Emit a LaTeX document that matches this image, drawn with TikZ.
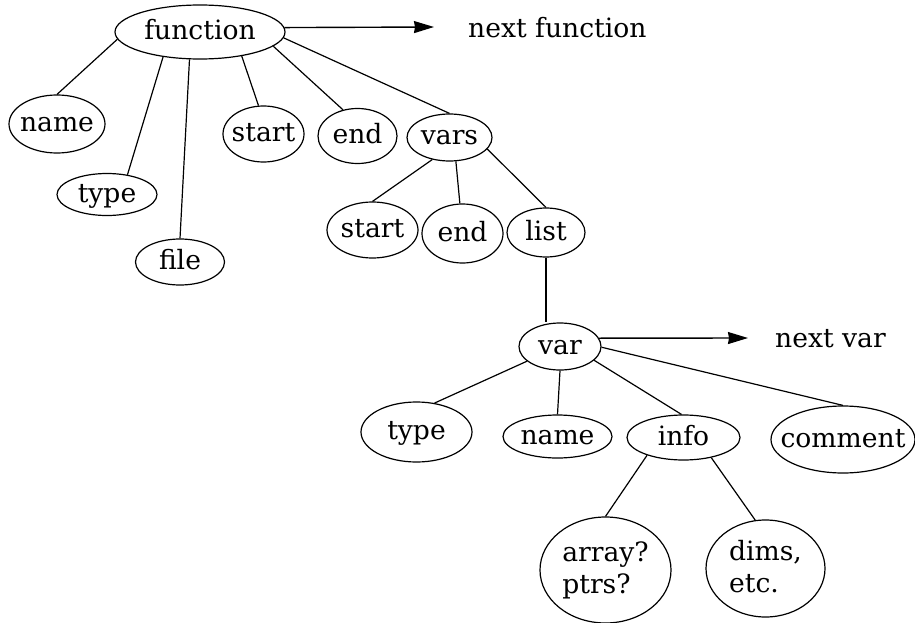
\documentclass[tikz,border=0pt]{standalone}
\usepackage{fontspec}
\setmainfont{DejaVu Serif}
\usetikzlibrary{shapes.geometric,arrows.meta}
\newcommand{\tx}[1]{\makebox[0pt]{\smash{#1}}}
\tikzset{
  ell/.style={draw, ellipse, line width=1.2pt, inner sep=0pt, text height=20pt, text depth=5pt},
  lnk/.style={line width=1.2pt},
  arr/.style={line width=1.4pt, -{Stealth[length=20pt,width=12pt,inset=1pt]}},
  lbl/.style={anchor=base west, inner sep=0pt}
}
\begin{document}
\begin{tikzpicture}[x=1pt,y=-1pt,font=\fontsize{26.6pt}{32pt}\selectfont]
\fill[white] (0,0) rectangle (915,623);
\useasboundingbox (0,0) rectangle (915,623);
% top level
\node[ell, minimum width=170pt, minimum height=54pt] (function) at (200,32) {\tx{function}};
\node[ell, minimum width=96pt, minimum height=58pt] (name) at (57,124) {\tx{name}};
\node[ell, minimum width=100pt, minimum height=42pt] (type) at (107,194.5) {\tx{type}};
\node[ell, minimum width=89pt, minimum height=46pt] (file) at (180,262) {\tx{file}};
\node[ell, minimum width=81pt, minimum height=56pt] (start) at (263.5,134) {\tx{start}};
\node[ell, minimum width=79pt, minimum height=55pt] (end) at (357.5,136) {\tx{end}};
\node[ell, minimum width=85pt, minimum height=47pt] (vars) at (449.5,137.5) {\tx{vars}};
\node[ell, minimum width=91pt, minimum height=56pt] (start2) at (372.5,230) {\tx{start}};
\node[ell, minimum width=81pt, minimum height=59pt] (end2) at (462.5,233.5) {\tx{end}};
\node[ell, minimum width=78pt, minimum height=49pt] (list) at (546,232.5) {\tx{list}};
% var level
\node[ell, minimum width=82pt, minimum height=47pt] (var) at (560,346.5) {\tx{var}};
\node[ell, minimum width=111pt, minimum height=60pt] (type2) at (416.5,432) {\tx{type}};
\node[ell, minimum width=109pt, minimum height=43pt] (name2) at (557.5,436.5) {\tx{name}};
\node[ell, minimum width=113pt, minimum height=45pt] (info) at (683.5,437.5) {\tx{info}};
\node[ell, minimum width=144pt, minimum height=67pt] (comment) at (843,439.5) {\tx{comment}};
\node[ell, minimum width=131pt, minimum height=106pt] (array) at (605.5,570) {\tx{\begin{tabular}{@{}l@{}}array?\\ptrs?\end{tabular}}};
\node[ell, minimum width=119pt, minimum height=97pt] (dims) at (765.5,568.5) {\tx{\begin{tabular}{@{}l@{}}dims,\\etc.\end{tabular}}};
% labels
\node[lbl] (nextfn) at (468,38) {next function};
\node[lbl] (nextvar) at (775,347) {next var};
\coordinate (nftip) at (434,27);
\coordinate (nvtip) at (748,338);
% arrows
\draw[arr] (function.3.4) -- (nftip);
\draw[arr] (var.12.5) -- (nvtip);
% connectors
\draw[lnk] (function.185) -- (name.north);
\draw[lnk] (function.214) -- (type.44);
\draw[lnk] (function.249) -- (file.north);
\draw[lnk] (function.-30) -- (start.100);
\draw[lnk] (function.-11.6) -- (end.119);
\draw[lnk] (function.-4) -- (vars.north);
\draw[lnk] (vars.232) -- (start2.north);
\draw[lnk] (vars.285) -- (end2.95);
\draw[lnk] (vars.-17) -- (list.north);
\draw[lnk] (list.south) -- (list.south |- var.north);
\draw[lnk] (var.204) -- (type2.58);
\draw[lnk] (var.south) -- (name2.north);
\draw[lnk] (var.-22) -- (info.95);
\draw[lnk] (var.-1) -- (comment.north);
\draw[lnk] (info.206) -- (array.north);
\draw[lnk] (info.-36) -- (dims.102);
\end{tikzpicture}
\end{document}
